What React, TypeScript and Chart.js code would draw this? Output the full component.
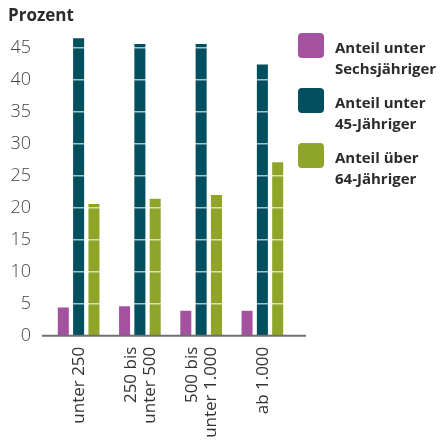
import React, { useEffect, useRef } from "react";
import { Chart, registerables } from "chart.js";

Chart.register(...registerables);

// ---- Data ----
const categories: string[][] = [
  ["unter 250"],
  ["250 bis", "unter 500"],
  ["500 bis", "unter 1.000"],
  ["ab 1.000"],
];
const seriesNames = [
  "Anteil unter Sechsjähriger",
  "Anteil unter 45-Jähriger",
  "Anteil über 64-Jähriger",
];
const legendLines: string[][] = [
  ["Anteil unter", "Sechsjähriger"],
  ["Anteil unter", "45-Jähriger"],
  ["Anteil über", "64-Jähriger"],
];
const underSix = [4.4, 4.6, 3.9, 3.9];
const underFortyFive = [46.5, 45.6, 45.6, 42.4];
const overSixtyFour = [20.6, 21.4, 22.0, 27.1];
const yTickValues = [0, 5, 10, 15, 20, 25, 30, 35, 40, 45];
const yMax = 47;
const axisTitle = "Prozent";

const colors = ["#a4529f", "#024f5f", "#8fa527"];
const FONT = "'Open Sans', 'Noto Sans', sans-serif";

const baselinePlugin = {
  id: "baseline",
  afterDraw(chart: any) {
    const y = chart.scales.y.getPixelForValue(0);
    const xs = chart.scales.x;
    const ctx = chart.ctx;
    ctx.save();
    ctx.strokeStyle = "#6e6e6e";
    ctx.lineWidth = 2;
    ctx.beginPath();
    ctx.moveTo(42, y);
    ctx.lineTo(306, y);
    ctx.stroke();

    // category labels, rotated, lines centred on the tick
    ctx.fillStyle = "#333333";
    ctx.font = `500 17px ${FONT}`;
    ctx.textAlign = "right";
    ctx.textBaseline = "middle";
    const lineGap = 19;
    const labels = chart.data.labels as string[][];
    labels.forEach((lines, i) => {
      const cx = xs.getPixelForValue(i) + 1;
      const n = lines.length;
      lines.forEach((line, j) => {
        const x = cx + (j - (n - 1) / 2) * lineGap;
        ctx.save();
        ctx.translate(x, y + 11);
        ctx.rotate(-Math.PI / 2);
        ctx.fillText(line, 0, 0);
        ctx.restore();
      });
    });
    ctx.restore();
  },
};

export default function App() {
  const ref = useRef<HTMLCanvasElement | null>(null);

  useEffect(() => {
    if (!ref.current) return;
    const chart = new Chart(ref.current, {
      type: "bar",
      data: {
        labels: categories as any,
        datasets: [underSix, underFortyFive, overSixtyFour].map((d, i) => ({
          label: seriesNames[i],
          data: d,
          backgroundColor: colors[i],
          borderWidth: 0,
          categoryPercentage: 0.75,
          barPercentage: 0.72,
        })),
      },
      options: {
        responsive: false,
        animation: false,
        layout: { padding: { left: 0, right: 155, top: 35, bottom: 0 } },
        plugins: {
          legend: { display: false },
          title: { display: false },
          tooltip: { enabled: false },
        },
        scales: {
          x: {
            grid: { display: false, drawTicks: false },
            border: { display: false },
            ticks: { display: false },
            afterFit(scale: any) {
              scale.height = 108.3;
            },
          },
          y: {
            min: 0,
            max: yMax,
            grid: {
              z: 1,
              color: "rgba(255,255,255,0.65)",
              lineWidth: 1.5,
              drawTicks: false,
            },
            border: { display: false },
            afterBuildTicks(scale: any) {
              scale.ticks = yTickValues.map((v) => ({ value: v }));
            },
            ticks: {
              padding: 17,
              color: "#444444",
              font: { family: FONT, size: 18, weight: 300 as any },
            },
            afterFit(scale: any) {
              scale.width = 48;
            },
          },
        },
      },
      plugins: [baselinePlugin],
    });
    return () => chart.destroy();
  }, []);

  return (
    <div style={{ position: "absolute", left: 0, top: 0, width: 448, height: 444, background: "#fff" }}>
      <canvas ref={ref} width={448} height={444} style={{ position: "absolute", left: 0, top: 0, width: 448, height: 444 }} />
      <div
        style={{
          position: "absolute",
          left: 8,
          top: 5,
          fontFamily: FONT,
          fontWeight: 700,
          fontSize: 17,
          lineHeight: "20px",
          color: "#2b2b2b",
        }}
      >
        {axisTitle}
      </div>
      {legendLines.map((lines, i) => (
        <div key={i}>
          <div
            style={{
              position: "absolute",
              left: 298,
              top: 33 + i * 55,
              width: 26,
              height: 25,
              borderRadius: 4,
              background: colors[i],
            }}
          />
          <div
            style={{
              position: "absolute",
              left: 335,
              top: 37.4 + i * 55,
              fontFamily: FONT,
              fontWeight: 700,
              fontSize: 15,
              lineHeight: "21px",
              color: "#2b2b2b",
              whiteSpace: "nowrap",
            }}
          >
            {lines.map((l, j) => (
              <div key={j}>{l}</div>
            ))}
          </div>
        </div>
      ))}
    </div>
  );
}
